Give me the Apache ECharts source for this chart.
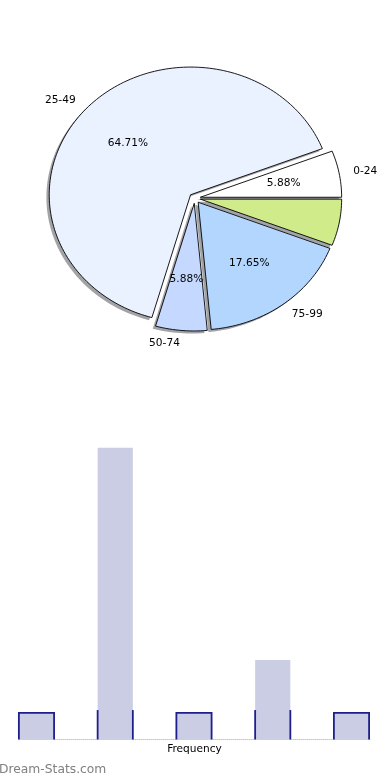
<!DOCTYPE html>
<html>
<head>
<meta charset="utf-8">
<script src="https://cdn.jsdelivr.net/npm/echarts@6/dist/echarts.min.js"></script>
<style>
html,body{margin:0;padding:0;background:#fff;}
#chart{width:390px;height:780px;}
</style>
</head>
<body>
<div id="chart"></div>
<script>
// ---- data ----
const pieLabels = ['0-24', '25-49', '50-74', '75-99', ''];
const pieCounts = [1, 11, 1, 3, 1];
const pieColors = ['#FFFFFF', '#EBF2FF', '#C5D8FF', '#B3D6FF', '#CFEB8A'];
const binPositions = [0, 1, 2, 3, 4];
const binValues = [1, 11, 1, 3, 1];
const axisName = 'Frequency';
const watermark = 'Dream-Stats.com';

// ---- derived slices ----
const total = pieCounts.reduce((a, b) => a + b, 0);
let acc = 0;
const slices = pieCounts.map((c, i) => {
  const a0 = acc / total * 360;
  acc += c;
  const a1 = acc / total * 360;
  return [a0, a1, (a0 + a1) / 2, i];
});
const explode = 0.04;
const shadowOff = -0.02;
const rad = d => d * Math.PI / 180;
const FONT = 'DejaVu Sans';
const FS = 10.6;

function wedgePoints(api, a0, a1, mid, dx, dy) {
  const ex = explode * Math.cos(rad(mid)) + dx;
  const ey = explode * Math.sin(rad(mid)) + dy;
  const pts = [api.coord([ex, ey])];
  const n = Math.max(12, Math.ceil((a1 - a0) / 1.5));
  for (let k = 0; k <= n; k++) {
    const t = rad(a0 + (a1 - a0) * k / n);
    pts.push(api.coord([ex + Math.cos(t), ey + Math.sin(t)]));
  }
  return pts;
}

const outlineCap = 1.11;
const halfBar = 17.6;

const option = {
  animation: false,
  backgroundColor: '#fff',
  grid: [
    { left: 11, top: 32.2, width: 367.5, height: 332 },
    { left: 19, top: 447.7, right: 20, bottom: 40.5 }
  ],
  xAxis: [
    { gridIndex: 0, type: 'value', min: -1.3, max: 1.3, show: false },
    {
      gridIndex: 1, type: 'value', min: -0.222, max: 4.235,
      axisLine: { show: true, onZero: true, lineStyle: { color: '#c8c8c8', type: 'dotted', width: 1 } },
      axisTick: { show: false }, axisLabel: { show: false }, splitLine: { show: false },
      name: axisName, nameLocation: 'middle', nameGap: 4,
      nameTextStyle: { fontFamily: FONT, fontSize: FS, color: '#000' }
    }
  ],
  yAxis: [
    { gridIndex: 0, type: 'value', min: -1.3, max: 1.3, show: false },
    { gridIndex: 1, type: 'value', min: 0, max: 11, show: false }
  ],
  series: [
    {
      type: 'custom', xAxisIndex: 0, yAxisIndex: 0, clip: false, z: 1,
      data: slices,
      renderItem: (params, api) => ({
        type: 'polygon',
        shape: { points: wedgePoints(api, api.value(0), api.value(1), api.value(2), shadowOff, shadowOff) },
        style: { fill: 'rgba(70,72,77,0.5)', stroke: null }
      })
    },
    {
      type: 'custom', xAxisIndex: 0, yAxisIndex: 0, clip: false, z: 2,
      data: slices,
      renderItem: (params, api) => ({
        type: 'polygon',
        shape: { points: wedgePoints(api, api.value(0), api.value(1), api.value(2), 0, 0) },
        style: { fill: pieColors[api.value(3)], stroke: '#000', lineWidth: 0.9, lineJoin: 'miter' }
      })
    },
    {
      type: 'custom', xAxisIndex: 0, yAxisIndex: 0, clip: false, z: 3,
      data: slices,
      renderItem: (params, api) => {
        const i = api.value(3);
        const lbl = pieLabels[i];
        if (!lbl) return null;
        const mid = rad(api.value(2));
        const c = Math.cos(mid), s = Math.sin(mid);
        const ex = explode * c, ey = explode * s;
        const lp = api.coord([ex + 1.1 * c, ey + 1.1 * s]);
        const pp = api.coord([ex + 0.6 * c, ey + 0.6 * s]);
        const pct = (pieCounts[i] / total * 100).toFixed(2) + '%';
        return {
          type: 'group',
          children: [
            { type: 'text', x: lp[0], y: lp[1],
              style: { text: lbl, fill: '#000', fontFamily: FONT, fontSize: FS,
                       align: c > 0 ? 'left' : 'right', verticalAlign: 'middle' } },
            { type: 'text', x: pp[0], y: pp[1],
              style: { text: pct, fill: '#000', fontFamily: FONT, fontSize: FS,
                       align: 'center', verticalAlign: 'middle' } }
          ]
        };
      }
    },
    {
      type: 'bar', xAxisIndex: 1, yAxisIndex: 1, barWidth: 35.2,
      data: binPositions.map((x, i) => [x, binValues[i]]),
      itemStyle: { color: '#CBCDE5' }
    },
    {
      type: 'custom', xAxisIndex: 1, yAxisIndex: 1, clip: false, z: 3,
      data: binPositions.map((x, i) => [x, binValues[i]]),
      renderItem: (params, api) => {
        const x = api.value(0), v = api.value(1);
        const h = Math.min(v, outlineCap);
        const b = api.coord([x, 0]);
        const t = api.coord([x, h]);
        const L = b[0] - halfBar, R = b[0] + halfBar;
        const st = { stroke: '#1E1E8C', lineWidth: 1.8, fill: null };
        if (v <= outlineCap) {
          return { type: 'polyline', shape: { points: [[L, b[1]], [L, t[1]], [R, t[1]], [R, b[1]]] }, style: st };
        }
        return { type: 'group', children: [
          { type: 'line', shape: { x1: L, y1: b[1], x2: L, y2: t[1] }, style: st },
          { type: 'line', shape: { x1: R, y1: b[1], x2: R, y2: t[1] }, style: st }
        ] };
      }
    }
  ],
  graphic: [
    { type: 'text', left: -1, top: 763.5,
      style: { text: watermark, fill: '#808080', fontFamily: FONT, fontSize: 12.3 } }
  ]
};

const chart = echarts.init(document.getElementById('chart'), null, { renderer: 'canvas' });
chart.setOption(option);
</script>
</body>
</html>
